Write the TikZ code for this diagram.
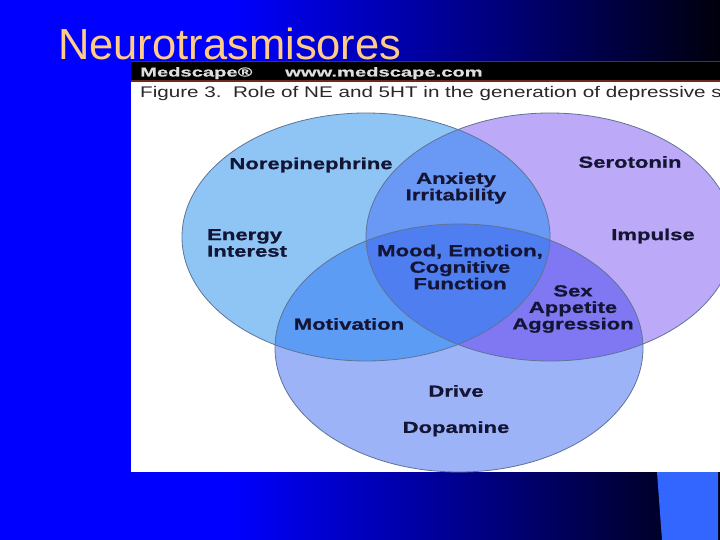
\documentclass[tikz,border=0pt]{standalone}
\usepackage{fontspec}
\setmainfont{Liberation Sans}
\newfontfamily\vennfont[FakeStretch=1.38,BoldFeatures={FakeBold=0.9}]{Liberation Sans}
\newfontfamily\capfont[FakeStretch=1.34]{Liberation Sans}
\newfontfamily\barfont[FakeStretch=1.55,BoldFeatures={FakeBold=0.6}]{Liberation Sans}
\usetikzlibrary{positioning}
\definecolor{slideBlue}{RGB}{0,0,255}
\definecolor{slideDark}{RGB}{0,0,12}
\definecolor{tabBlue}{RGB}{51,102,255}
\definecolor{titlePeach}{RGB}{255,204,136}
\definecolor{barEdge}{RGB}{110,40,30}
\definecolor{barInk}{RGB}{222,222,222}
\definecolor{capInk}{RGB}{40,40,40}
\definecolor{vennInk}{RGB}{20,20,52}
\definecolor{ringGray}{RGB}{95,115,150}
\definecolor{neFill}{RGB}{142,197,245}
\definecolor{htFill}{RGB}{188,169,247}
\definecolor{daFill}{RGB}{156,179,247}
\definecolor{neHtFill}{RGB}{106,152,245}
\definecolor{neDaFill}{RGB}{92,156,245}
\definecolor{htDaFill}{RGB}{128,120,242}
\definecolor{allFill}{RGB}{78,126,240}
% ellipse outlines of the three sets
\newcommand{\neRing}{(366,237) ellipse [x radius=184pt, y radius=124pt]}
\newcommand{\htRing}{(550,237) ellipse [x radius=184pt, y radius=124pt]}
\newcommand{\daRing}{(459,348) ellipse [x radius=184pt, y radius=124pt]}

\begin{document}
\begin{tikzpicture}[
  x=1pt, y=-1pt,
  vennlabel/.style={font={\vennfont\bfseries\fontsize{16}{16.5}\selectfont},
    text=vennInk, align=center, inner sep=0pt},
  bartext/.style={font={\barfont\bfseries\fontsize{13}{13}\selectfont},
    text=barInk, inner sep=0pt, anchor=base west},
  ring/.style={draw=ringGray, line width=0.8pt},
]
\useasboundingbox (0,0) rectangle (720,540);

% Slide background
\fill[slideBlue] (0,0) rectangle (720,540);
\shade[left color=slideBlue, right color=slideDark] (230,0) rectangle (720,540);
\fill[tabBlue] (657,472) -- (718,472) -- (718,540) -- (662,540) -- cycle;

\node[font={\fontsize{43.5}{44}\selectfont}, text=titlePeach, inner sep=0pt,
  anchor=base west] (title) at (58,60) {Neurotrasmisores};

% Figure
\begin{scope}
  \clip (131,61) rectangle (720,472);
  \fill[white] (131,61) rectangle (720,472);
  \fill[black, draw=barEdge, line width=1.5pt] (129,61.5) rectangle (722,81);
  \node[bartext] (medscape) at (140,76.5) {Medscape®};
  \node[bartext] (website) at (285,76.5) {www.medscape.com};
  \node[font={\capfont\fontsize{15.4}{16}\selectfont}, text=capInk, inner sep=0pt,
    anchor=base west] (caption) at (140,98)
    {Figure 3.\ \ Role of NE and 5HT in the generation of depressive s};

  % set fills
  \fill[neFill] \neRing;
  \fill[htFill] \htRing;
  \fill[daFill] \daRing;
  \begin{scope}
    \clip \neRing;
    \fill[neHtFill] \htRing;
    \fill[neDaFill] \daRing;
  \end{scope}
  \begin{scope}
    \clip \htRing;
    \fill[htDaFill] \daRing;
    \clip \daRing;
    \fill[allFill] \neRing;
  \end{scope}
  \draw[ring] \neRing;
  \draw[ring] \htRing;
  \draw[ring] \daRing;
\end{scope}

% Labels
\node[vennlabel] (ne) at (311,165) {Norepinephrine};
\node[vennlabel] (ht) at (630,162) {Serotonin};
\node[vennlabel, align=left, anchor=west] (energy) at (207,243) {Energy\\Interest};
\node[vennlabel] (impulse) at (653,236) {Impulse};
\node[vennlabel] (anxiety) at (456,188) {Anxiety\\Irritability};
\node[vennlabel] (mood) at (460,267) {Mood, Emotion,\\Cognitive\\Function};
\node[vennlabel] (sex) at (573,309) {Sex\\Appetite\\Aggression};
\node[vennlabel] (motivation) at (349,324) {Motivation};
\node[vennlabel] (drive) at (456,391) {Drive};
\node[vennlabel, below=24pt of drive] (da) {Dopamine};
\end{tikzpicture}
\end{document}
